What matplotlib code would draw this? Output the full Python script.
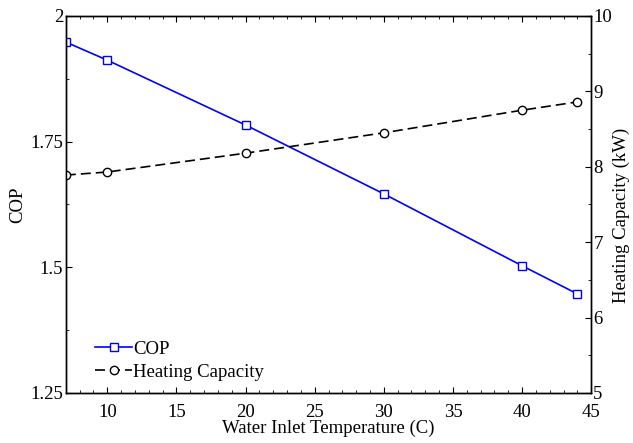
import matplotlib
matplotlib.use('Agg')
import matplotlib.pyplot as plt
from matplotlib.ticker import MultipleLocator

temps = [7, 10, 20, 30, 40, 44]
cop = [1.948, 1.912, 1.783, 1.646, 1.503, 1.447]
heating_capacity = [7.89, 7.93, 8.18, 8.45, 8.75, 8.86]

plt.rcParams['font.family'] = ['Liberation Serif', 'DejaVu Serif']
fs = 13.5

fig = plt.figure(figsize=(6.33, 4.43), dpi=100)
ax = fig.add_axes([0.104, 0.113, 0.830, 0.851])
ax2 = ax.twinx()

l1, = ax.plot(temps, cop, '-s', color='#0000ff', lw=1.2, ms=6,
              mfc='white', mec='#0000ff', mew=1.0, label='COP')
l2, = ax2.plot(temps, heating_capacity, '--o', color='black', lw=1.2, ms=6,
               mfc='white', mec='black', mew=1.0, dashes=(6, 3),
               label='Heating Capacity')

ax.set_xlim(7, 45)
ax.set_ylim(1.25, 2)
ax2.set_ylim(5, 10)

ax.xaxis.set_major_locator(MultipleLocator(5))
ax.xaxis.set_minor_locator(MultipleLocator(1))
ax.yaxis.set_minor_locator(MultipleLocator(0.125))
ax2.yaxis.set_major_locator(MultipleLocator(1))
ax2.yaxis.set_minor_locator(MultipleLocator(0.5))

ax.set_yticks([1.25, 1.5, 1.75, 2])
ax.set_yticklabels(['1.25', '1.5', '1.75', '2'])

ax.tick_params(which='both', direction='in', top=True, right=False, labelsize=fs)
ax.tick_params(axis='x', pad=8)
ax.tick_params(axis='y', pad=2)
ax.tick_params(which='major', length=4)
ax.tick_params(which='minor', length=2)
ax2.tick_params(which='both', direction='in', labelsize=fs, pad=1.5)
ax2.tick_params(which='major', length=4)
ax2.tick_params(which='minor', length=2)

for a in (ax, ax2):
    for s in a.spines.values():
        s.set_linewidth(1.0)

ax.set_xlabel('Water Inlet Temperature (C)', fontsize=fs, labelpad=-1)
ax.set_ylabel('COP', fontsize=fs)
ax.yaxis.set_label_coords(-0.075, 0.5)
ax2.set_ylabel('Heating Capacity (kW)', fontsize=fs)
ax2.yaxis.set_label_coords(1.04, 0.47)

ax.legend([l1, l2], ['COP', 'Heating Capacity'], loc='lower left',
          bbox_to_anchor=(0.023, -0.012), frameon=False, fontsize=fs,
          handlelength=2.0, handletextpad=0.05, labelspacing=0.3)

fig.savefig('out.png', dpi=100)
